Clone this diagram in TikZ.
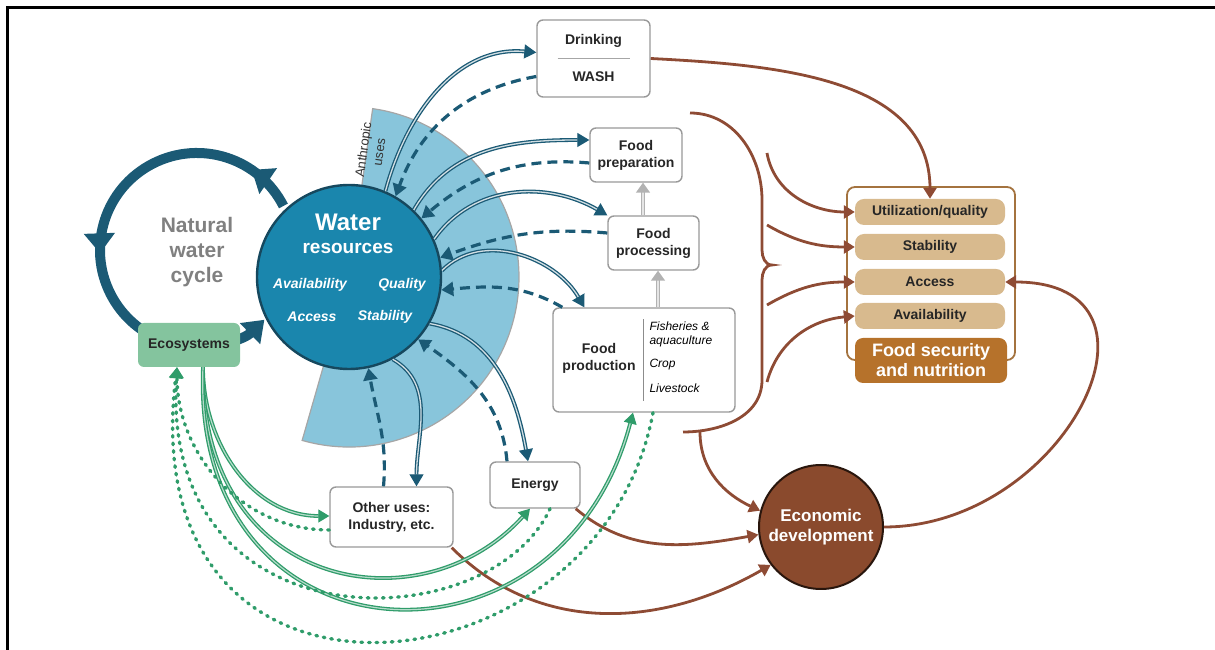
\documentclass[tikz,border=0pt]{standalone}
\usepackage{fontspec}
\setmainfont{Liberation Sans}
\usetikzlibrary{arrows.meta,decorations.markings}

\definecolor{tealdark}{HTML}{1B5A75}
\definecolor{waterblue}{HTML}{1A86AD}
\definecolor{fanblue}{HTML}{88C5DB}
\definecolor{ecogreen}{HTML}{84C49E}
\definecolor{greenline}{HTML}{2F9C6A}
\definecolor{brownline}{HTML}{8E4B34}
\definecolor{econbrown}{HTML}{8A4A2D}
\definecolor{pilltan}{HTML}{D8BA8E}
\definecolor{fsnorange}{HTML}{B6722B}
\definecolor{fsnframe}{HTML}{A4733F}

\newcommand\boxfont{\fontsize{14}{17}\selectfont\bfseries}
\newcommand\itemfont{\fontsize{12}{14}\selectfont\itshape}

\tikzset{
  usebox/.style={draw=black!40, line width=1.4pt, rounded corners=6pt, fill=white, align=center, font=\boxfont, text=black!85, inner sep=2pt},
  pill/.style={fill=pilltan, rounded corners=9pt, minimum width=150pt, minimum height=26pt, font=\fontsize{14}{16}\selectfont\bfseries, text=black!85},
  useflow/.style={draw=tealdark, line width=1.3pt, double=tealdark!20, double distance=1.3pt, -{Triangle[length=12pt,width=14pt]}},
  backflow/.style={draw=tealdark, line width=3.2pt, dash pattern=on 10pt off 6pt, -{Triangle[length=12pt,width=14pt]}},
  foodflow/.style={draw=brownline, line width=2.8pt, -{Triangle[length=11pt,width=13pt]}},
  foodline/.style={draw=brownline, line width=2.8pt},
  ecoflow/.style={draw=greenline, line width=1.3pt, double=greenline!35, double distance=1.2pt, -{Triangle[length=11pt,width=13pt]}},
  ecoback/.style={draw=greenline, line width=3.4pt, line cap=round, dash pattern=on 1.6pt off 6pt, -{Triangle[length=11pt,width=13pt]}},
  stepflow/.style={draw=black!30, line width=1.4pt, double=black!10, double distance=2pt, -{Triangle[length=10pt,width=14pt]}},
  waterring/.style={draw=tealdark, line width=10pt, -{Triangle[length=20pt,width=28pt]},
    decoration={markings,
      mark=at position 0.10 with {\arrow{Triangle[length=20pt,width=30pt]}},
      mark=at position 0.54 with {\arrow{Triangle[length=20pt,width=30pt]}}},
    postaction={decorate}},
}

\begin{document}
\begin{tikzpicture}[x=1pt,y=1pt]
        \useasboundingbox (0,0) rectangle (1215,650);
        \draw [ line width=3pt ] (7,0) -- (7,642) -- (1215,642);

        \filldraw [ fill=fanblue, draw=black!35, line width=1.2pt ] (349,373) -- ++(-106:170) arc (-106:82:170) -- cycle;
        \draw [ waterring ] (197,400) ++(27:97) arc (27:314:97);

        \node [ align=center, font=\fontsize{21}{25}\selectfont\bfseries, text=black!50 ] (natural) at (197,398) {Natural\\water\\cycle};
        \node [ fill=ecogreen, rounded corners=6pt, minimum width=102pt, minimum height=44pt, font=\fontsize{14}{16}\selectfont\bfseries, text=black!85 ] (ecosys) at (189,305) {Ecosystems};

        \node [ circle, fill=waterblue, draw=tealdark!80!black, line width=2.4pt, minimum size=184pt ] (water) at (349,373) {};
        \node [ font=\fontsize{24}{26}\selectfont\bfseries, text=white ] (wtitle) at (348,428) {Water};
        \node [ font=\fontsize{19}{21}\selectfont\bfseries, text=white ] (wsub) at (348,402) {resources};
        \node [ font=\fontsize{14}{16}\selectfont\bfseries\itshape, text=white ] (wavail) at (310,365) {Availability};
        \node [ font=\fontsize{14}{16}\selectfont\bfseries\itshape, text=white ] (wqual) at (402,365) {Quality};
        \node [ font=\fontsize{14}{16}\selectfont\bfseries\itshape, text=white ] (wacc) at (312,333) {Access};
        \node [ font=\fontsize{14}{16}\selectfont\bfseries\itshape, text=white ] (wstab) at (385,333) {Stability};
        \node [ rotate=82, align=center, font=\fontsize{13}{16}\selectfont, text=black!80 ] (anthro) at (371,499) {Anthropic\\uses};

        \node [ usebox, minimum width=113pt, minimum height=77pt ] (drink) at (593.5,591.5) {Drinking\\[20pt]WASH};
        \draw [ black!35, line width=1pt ] ([xshift=-36pt]drink.center) -- ([xshift=36pt]drink.center);
        \node [ usebox, minimum width=92pt, minimum height=54pt ] (prep) at (636,495) {Food\\preparation};
        \node [ usebox, minimum width=91pt, minimum height=54pt ] (proc) at (653.5,407) {Food\\processing};
        \node [ usebox, minimum width=182pt, minimum height=104pt ] (prod) at (644,290) {};
        \node [ font=\boxfont, align=center, text=black!85 ] (prodname) at (599,292) {Food\\production};
        \draw [ black!45, line width=1pt ] ([xshift=-1pt,yshift=-12pt]prod.north) -- ([xshift=-1pt,yshift=12pt]prod.south);
        \node [ anchor=west, align=left, font=\itemfont ] (fish) at (646,316) {Fisheries \&\\aquaculture};
        \node [ anchor=west, font=\itemfont ] (crop) at (646,285) {Crop};
        \node [ anchor=west, font=\itemfont ] (live) at (646,262) {Livestock};
        \node [ usebox, minimum width=90pt, minimum height=46pt ] (energy) at (535,165) {Energy};
        \node [ usebox, minimum width=123pt, minimum height=60pt ] (other) at (391.5,133) {Other uses:\\Industry, etc.};

        \node [ circle, fill=econbrown, draw=black!70!econbrown, line width=2pt, minimum size=124pt, align=center, font=\fontsize{17}{20}\selectfont\bfseries, text=white ] (econ) at (821,123) {Economic\\development};

        \node [ draw=fsnframe, line width=1.8pt, rounded corners=8pt, minimum width=168pt, minimum height=173pt ] (fsnbox) at (931,376.5) {};
        \node [ pill ] (putil) at (930,438) {Utilization/quality};
        \node [ pill ] (pstab) at (930,403) {Stability};
        \node [ pill ] (pacc) at (930,368) {Access};
        \node [ pill ] (pavail) at (930,334) {Availability};
        \node [ fill=fsnorange, rounded corners=8pt, minimum width=152pt, minimum height=45pt, align=center, font=\fontsize{18}{20}\selectfont\bfseries, text=white ] (fsn) at (931,289.5) {Food security\\and nutrition};

        \draw [ useflow ] (water.67) to [ out=75, in=175 ] ([yshift=6pt]drink.west);
        \draw [ backflow ] ([yshift=-18pt]drink.west) to [ out=190, in=70 ] (water.60);
        \draw [ useflow ] (water.46) to [ out=60, in=180 ] ([yshift=15pt]prep.west);
        \draw [ backflow ] ([yshift=-8pt]prep.west) to [ out=175, in=40 ] (water.39);
        \draw [ useflow ] (water.24) to [ out=55, in=150 ] (proc.north west);
        \draw [ backflow ] ([yshift=10pt]proc.west) to [ out=175, in=20 ] (water.12);
        \draw [ useflow ] (water.4) to [ out=45, in=120 ] ([xshift=32pt]prod.north west);
        \draw [ backflow ] ([xshift=10pt]prod.north west) to [ out=150, in=5 ] (water.-8);
        \draw [ useflow ] (water.-30) to [ out=-10, in=100 ] ([xshift=-7pt]energy.north);
        \draw [ backflow ] ([xshift=-28pt]energy.north) to [ out=95, in=-35 ] (water.-42);
        \draw [ useflow ] (water.-62) to [ out=-30, in=90 ] ([xshift=25pt]other.north);
        \draw [ backflow ] ([xshift=-8pt]other.north) to [ out=85, in=-80 ] (water.-78);

        \draw [ stepflow ] ([xshift=14pt]prod.north) -- ([xshift=4.5pt]proc.south);
        \draw [ stepflow ] ([xshift=-10.5pt]proc.north) -- ([xshift=7pt]prep.south);

        \draw [ foodflow ] (drink.east) to [ out=-3, in=90 ] (putil.north);
        \draw [ foodline ] (690,537) to [ out=0, in=90 ] (762,450) -- (762,400) to [ out=-90, in=180 ] (772,385) to [ out=180, in=90 ] (762,370) -- (762,270) to [ out=-90, in=0 ] (683,218);
        \coordinate (bracefoot) at (700,218);
        \coordinate (ua) at (767,497);
        \coordinate (sa) at (767,425);
        \coordinate (aa) at (767,345);
        \coordinate (va) at (767,268);
        \draw [ foodflow ] (bracefoot) to [ out=-90, in=155 ] (econ.165);
        \draw [ foodflow ] (ua) to [ out=-80, in=180 ] (putil.west);
        \draw [ foodflow ] (sa) to [ out=-30, in=180 ] (pstab.west);
        \draw [ foodflow ] (aa) to [ out=30, in=180 ] (pacc.west);
        \draw [ foodflow ] (va) to [ out=75, in=185 ] (pavail.west);
        \draw [ foodflow ] (econ.east) to [ out=0, in=0, looseness=1.7 ] (pacc.east);
        \draw [ foodflow ] ([xshift=-5pt]energy.south east) to [ out=-40, in=190 ] (econ.187);
        \draw [ foodflow ] ([xshift=-2pt]other.south east) to [ out=-45, in=210 ] (econ.217);

        \draw [ ecoflow ] ([xshift=14pt]ecosys.south) to [ out=-90, in=180 ] ([yshift=1pt]other.west);
        \draw [ ecoflow ] ([xshift=14pt]ecosys.south) .. controls (200,60) and (420,20) .. ([xshift=-5pt]energy.south);
        \draw [ ecoflow ] ([xshift=14pt]ecosys.south) .. controls (190,-20) and (560,-40) .. ([xshift=-11pt]prod.south);
        \draw [ ecoback ] ([yshift=-13pt]other.west) to [ out=180, in=-90 ] ([xshift=-12pt]ecosys.south);
        \draw [ ecoback ] ([xshift=15pt]energy.south) .. controls (490,10) and (160,0) .. ([xshift=-12pt]ecosys.south);
        \draw [ ecoback ] ([xshift=9pt]prod.south) .. controls (600,-50) and (130,-100) .. ([xshift=-12pt]ecosys.south);
\end{tikzpicture}
\end{document}
